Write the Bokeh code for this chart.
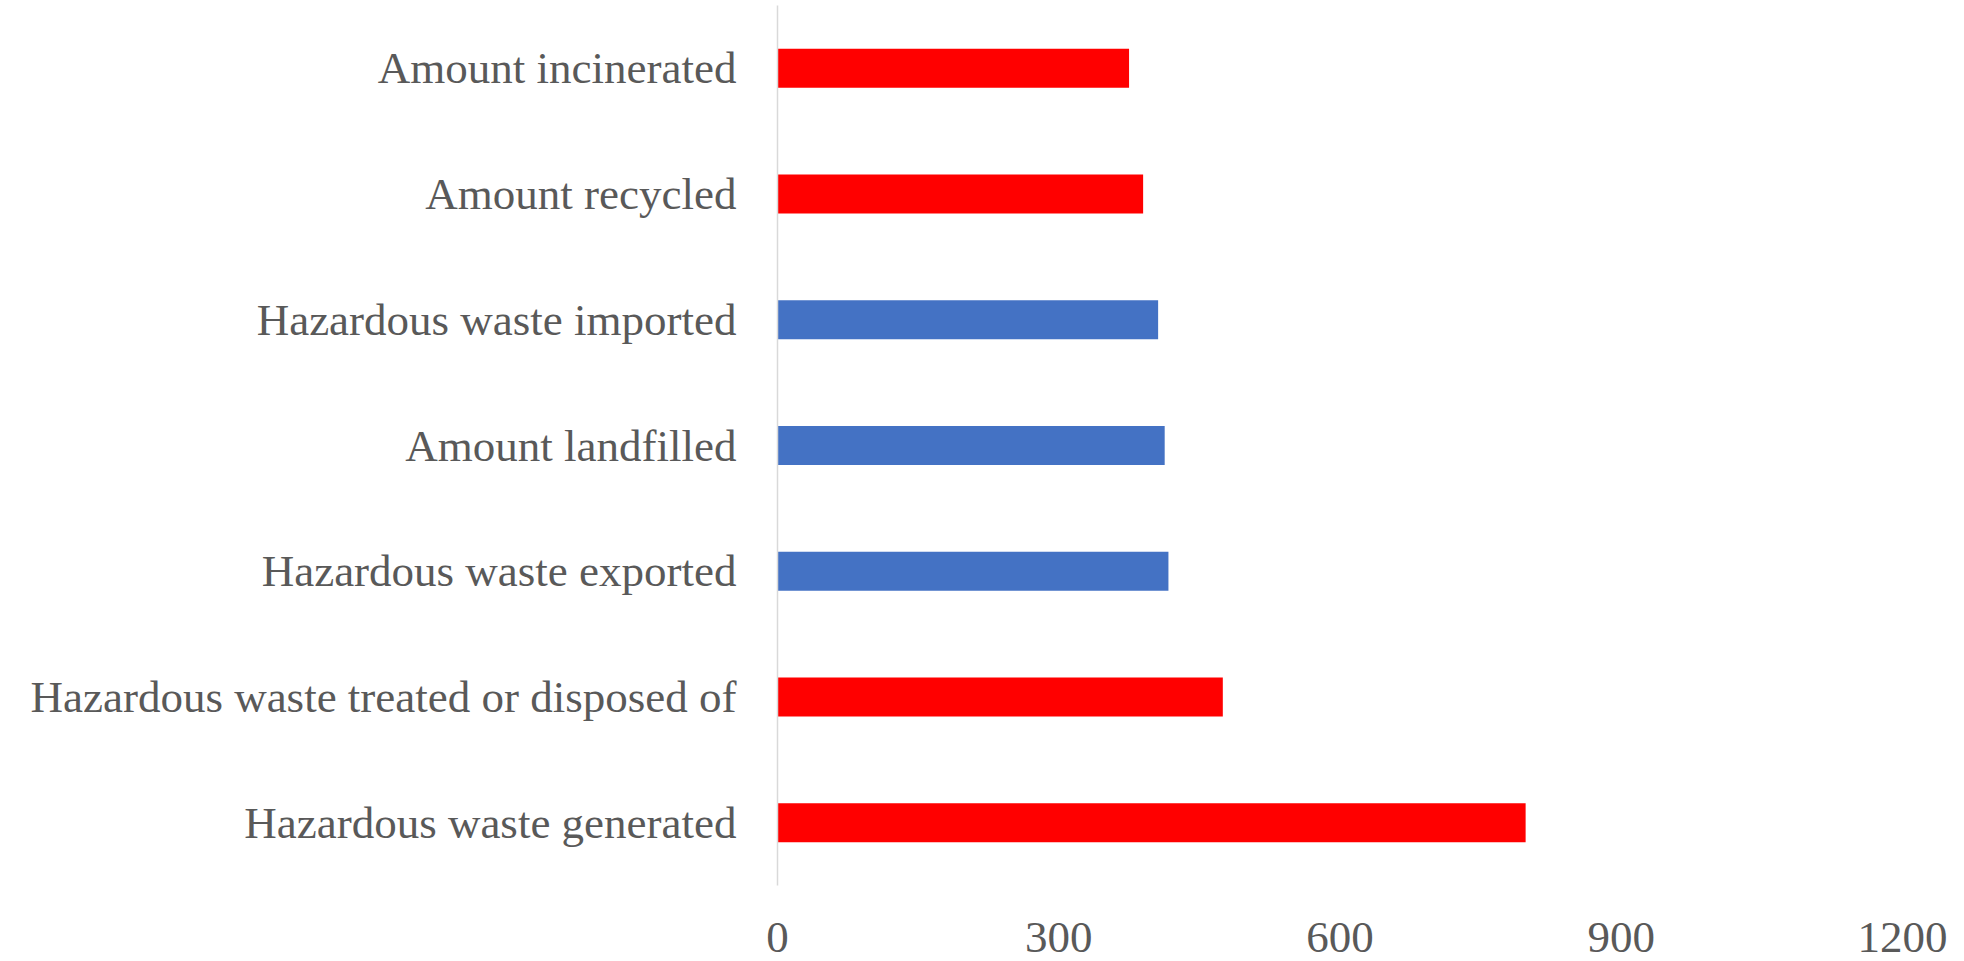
from bokeh.plotting import figure
from bokeh.models import ColumnDataSource, FactorRange, Range1d, FixedTicker
from bokeh.embed import file_html
from bokeh.resources import INLINE

# Categories listed bottom to top
categories = [
    "Hazardous waste generated",
    "Hazardous waste treated or disposed of",
    "Hazardous waste exported",
    "Amount landfilled",
    "Hazardous waste imported",
    "Amount recycled",
    "Amount incinerated",
]
amounts = [798, 475, 417, 413, 406, 390, 375]
bar_colors = ["#FF0000", "#FF0000", "#4472C4", "#4472C4", "#4472C4", "#FF0000", "#FF0000"]
x_ticks = [0, 300, 600, 900, 1200]

FONT = "Liberation Serif"
TEXT_COLOR = "#595959"

source = ColumnDataSource(dict(cat=categories, val=amounts, color=bar_colors))

p = figure(
    width=1964,
    height=961,
    y_range=FactorRange(*categories),
    x_range=Range1d(0, 1200),
    output_backend="svg",
    toolbar_location=None,
    min_border_left=777,
    min_border_right=62,
    min_border_top=5,
    min_border_bottom=76,
)

p.hbar(y="cat", left=0, right="val", height=0.31, color="color", line_color=None, source=source)

p.outline_line_color = None
p.xgrid.visible = False
p.ygrid.visible = False
p.background_fill_color = "white"
p.border_fill_color = "white"

# horizontal value axis: labels only
p.xaxis.ticker = FixedTicker(ticks=x_ticks)
p.xaxis.axis_line_color = None
p.xaxis.major_tick_line_color = None
p.xaxis.minor_tick_line_color = None
p.xaxis.major_tick_out = 0
p.xaxis.major_label_standoff = 37
p.xaxis.major_label_text_font = FONT
p.xaxis.major_label_text_font_size = "45px"
p.xaxis.major_label_text_color = TEXT_COLOR

# category axis: thin light rule at zero
p.yaxis.axis_line_color = "#D9D9D9"
p.yaxis.axis_line_width = 1.5
p.yaxis.major_tick_line_color = None
p.yaxis.minor_tick_line_color = None
p.yaxis.major_tick_out = 0
p.yaxis.major_label_standoff = 41
p.yaxis.major_label_text_font = FONT
p.yaxis.major_label_text_font_size = "45px"
p.yaxis.major_label_text_color = TEXT_COLOR

open("out.html", "w").write(file_html(p, INLINE))
